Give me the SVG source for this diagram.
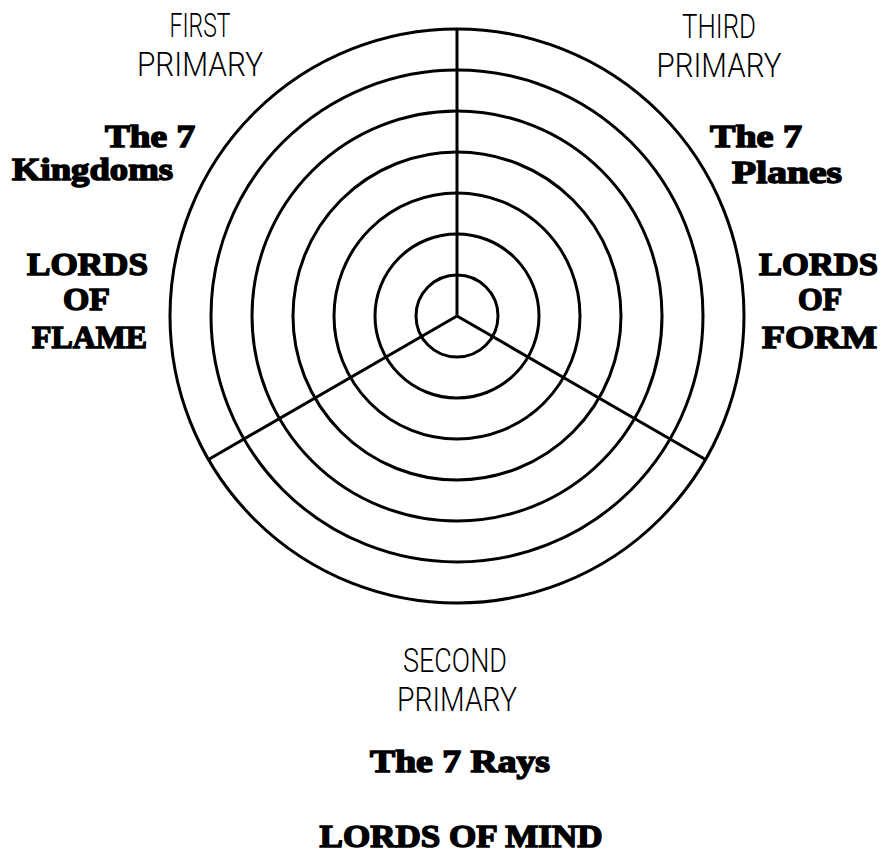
<svg xmlns="http://www.w3.org/2000/svg" width="887" height="854" viewBox="0 0 887 854">
<style>
.ring{fill:none;stroke:#000;stroke-width:3}
.spoke{stroke:#000;stroke-width:3;stroke-linecap:butt}
.thin{font-family:Roboto,"Liberation Sans",sans-serif;font-weight:300;font-size:33px;fill:#000;text-anchor:middle}
.heavy{font-family:"Liberation Serif","DejaVu Serif",serif;font-weight:bold;font-size:32px;fill:#000;stroke:#000;stroke-width:1.5;text-anchor:middle}
</style>
<rect width="887" height="854" fill="#fff"/>
<g id="wheel">
<circle class="ring" cx="457" cy="316" r="41"/>
<circle class="ring" cx="457" cy="316" r="82"/>
<circle class="ring" cx="457" cy="316" r="123"/>
<circle class="ring" cx="457" cy="316" r="164"/>
<circle class="ring" cx="457" cy="316" r="205"/>
<circle class="ring" cx="457" cy="316" r="246"/>
<circle class="ring" cx="457" cy="316" r="287"/>
</g>
<g id="connectors">
<line class="spoke" x1="457" y1="316" x2="457" y2="29"/>
<line class="spoke" x1="457" y1="316" x2="208.5" y2="459.5"/>
<line class="spoke" x1="457" y1="316" x2="705.5" y2="459.5"/>
</g>
<g id="first-primary">
<text class="thin" x="200" y="37" textLength="61" lengthAdjust="spacingAndGlyphs">FIRST</text>
<text class="thin" x="200" y="76" textLength="126" lengthAdjust="spacingAndGlyphs">PRIMARY</text>
<text class="heavy" x="150" y="147" textLength="90" lengthAdjust="spacingAndGlyphs">The 7</text>
<text class="heavy" x="92.5" y="180" textLength="161" lengthAdjust="spacingAndGlyphs">Kingdoms</text>
<text class="heavy" x="87.5" y="275" textLength="121" lengthAdjust="spacingAndGlyphs">LORDS</text>
<text class="heavy" x="86.5" y="310" textLength="47" lengthAdjust="spacingAndGlyphs">OF</text>
<text class="heavy" x="89.5" y="348" textLength="115" lengthAdjust="spacingAndGlyphs">FLAME</text>
</g>
<g id="third-primary">
<text class="thin" x="719" y="38" textLength="74" lengthAdjust="spacingAndGlyphs">THIRD</text>
<text class="thin" x="719" y="77" textLength="125" lengthAdjust="spacingAndGlyphs">PRIMARY</text>
<text class="heavy" x="756" y="147" textLength="92" lengthAdjust="spacingAndGlyphs">The 7</text>
<text class="heavy" x="787" y="183" textLength="110" lengthAdjust="spacingAndGlyphs">Planes</text>
<text class="heavy" x="818.5" y="275" textLength="119" lengthAdjust="spacingAndGlyphs">LORDS</text>
<text class="heavy" x="820" y="310" textLength="44" lengthAdjust="spacingAndGlyphs">OF</text>
<text class="heavy" x="819.5" y="348" textLength="115" lengthAdjust="spacingAndGlyphs">FORM</text>
</g>
<g id="second-primary">
<text class="thin" x="455" y="672" textLength="104" lengthAdjust="spacingAndGlyphs">SECOND</text>
<text class="thin" x="457" y="711" textLength="120" lengthAdjust="spacingAndGlyphs">PRIMARY</text>
<text class="heavy" x="460" y="772" textLength="180" lengthAdjust="spacingAndGlyphs">The 7 Rays</text>
<text class="heavy" x="461" y="847" font-size="30" textLength="283" lengthAdjust="spacingAndGlyphs">LORDS OF MIND</text>
</g>
</svg>
